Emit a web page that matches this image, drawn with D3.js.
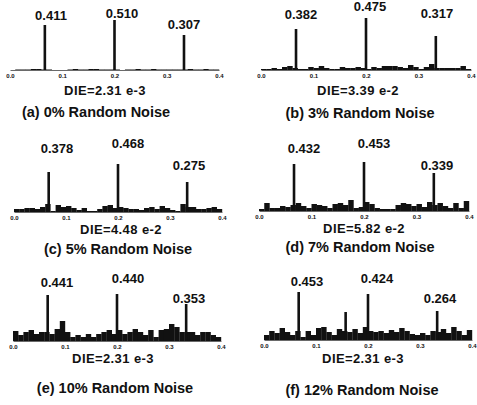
<!DOCTYPE html>
<html>
<head>
<meta charset="utf-8">
<script src="https://cdn.jsdelivr.net/npm/d3@7"></script>
<style>
  body { margin: 0; background: #fff; }
  text { font-family: "Liberation Sans", Arial, sans-serif; font-weight: bold; fill: #111; }
</style>
</head>
<body>
<script>
// --- Data ---
const ticks = [0.0, 0.1, 0.2, 0.3, 0.4];
const binWidth = 0.01;
const peakPos = [0.0667, 0.2, 0.333];

const captions = [
    "(a) 0% Random Noise", "(b) 3% Random Noise", "(c) 5% Random Noise",
    "(d) 7% Random Noise", "(e) 10% Random Noise", "(f) 12% Random Noise"
];
const dieLabels = ["DIE=2.31 e-3", "DIE=3.39 e-2", "DIE=4.48 e-2", "DIE=5.82 e-2", "DIE=2.31 e-3", "DIE=2.31 e-3"];

// values printed above the three peaks
const peakLabels = [
    ["0.411", "0.510", "0.307"],
    ["0.382", "0.475", "0.317"],
    ["0.378", "0.468", "0.275"],
    ["0.432", "0.453", "0.339"],
    ["0.441", "0.440", "0.353"],
    ["0.453", "0.424", "0.264"]
];

// drawn peak heights
const peakHeights = [
    [0.45, 0.50, 0.35],
    [0.41, 0.52, 0.34],
    [0.40, 0.48, 0.30],
    [0.47, 0.49, 0.38],
    [0.46, 0.47, 0.37],
    [0.48, 0.46, 0.29]
];

// extra noise spike in (f)
const extraSpikeF = { pos: 0.157, h: 0.28 };

// noise amplitude per 0.01 bin
const noiseA = [0, 0.005, 0.005, 0.005, 0.01, 0.01, 0.005, 0.005, 0, 0,
    0, 0.005, 0.01, 0.005, 0.005, 0.01, 0.01, 0.005, 0.005, 0.005,
    0.005, 0, 0.005, 0.005, 0.01, 0.005, 0.005, 0.01, 0.005, 0.005,
    0.005, 0.005, 0.005, 0.005, 0.01, 0.005, 0.005, 0.01, 0.005, 0.005];
const noiseB = [0.01, 0.01, 0.02, 0.01, 0.03, 0.04, 0.02, 0.01, 0.01, 0.03,
    0.02, 0.04, 0.02, 0.01, 0.01, 0.03, 0.02, 0.02, 0.03, 0.02,
    0.01, 0.03, 0.02, 0.04, 0.04, 0.04, 0.03, 0.02, 0.05, 0.03,
    0.01, 0.03, 0.06, 0.02, 0.02, 0.02, 0.02, 0.02, 0.04, 0.01];
const noiseC = [0.03, 0.03, 0.04, 0.04, 0.03, 0.05, 0.08, 0.01, 0.07, 0.05,
    0.06, 0.04, 0.02, 0.04, 0.01, 0.01, 0.03, 0.06, 0.07, 0.04,
    0.05, 0.04, 0.03, 0.03, 0.02, 0.04, 0.05, 0.03, 0.06, 0.04,
    0.02, 0.01, 0.08, 0.05, 0.05, 0.03, 0.03, 0.04, 0.05, 0.03];
const noiseD = [0.02, 0.08, 0.03, 0.03, 0.05, 0.04, 0.06, 0.08, 0.05, 0.03,
    0.07, 0.06, 0.05, 0.03, 0.07, 0.08, 0.06, 0.11, 0.03, 0.04,
    0.09, 0.07, 0.03, 0.02, 0.02, 0.02, 0.06, 0.08, 0.07, 0.05,
    0.07, 0.04, 0.09, 0.06, 0.08, 0.05, 0.03, 0.08, 0.03, 0.10];
const noiseE = [0.10, 0.06, 0.09, 0.11, 0.07, 0.09, 0.09, 0.07, 0.12, 0.20,
    0.09, 0.04, 0.06, 0.04, 0.07, 0.04, 0.07, 0.09, 0.11, 0.07,
    0.11, 0.07, 0.09, 0.12, 0.09, 0.06, 0.11, 0.04, 0.11, 0.12,
    0.17, 0.14, 0.09, 0.09, 0.09, 0.06, 0.09, 0.09, 0.06, 0.04];
const noiseF = [0.05, 0.09, 0.07, 0.12, 0.08, 0.05, 0.09, 0.03, 0.09, 0.05,
    0.12, 0.13, 0.08, 0.05, 0.11, 0.09, 0.08, 0.11, 0.07, 0.13,
    0.09, 0.08, 0.09, 0.07, 0.10, 0.08, 0.12, 0.09, 0.06, 0.05,
    0.07, 0.05, 0.09, 0.08, 0.11, 0.07, 0.13, 0.09, 0.05, 0.10];
const noiseSeries = [noiseA, noiseB, noiseC, noiseD, noiseE, noiseF];

// --- Layout (pixels) ---
const panels = [
    { x0: 10, x1: 219, axisY: 70, labels: [[51, 20], [122, 18], [184, 29]], die: [105, 95], cap: [96, 117] },
    { x0: 261, x1: 471, axisY: 70, labels: [[301, 19], [370, 11], [437, 18]], die: [358, 95], cap: [360, 118] },
    { x0: 14, x1: 222, axisY: 212, labels: [[57, 153], [128, 148], [189, 170]], die: [121, 234], cap: [118, 254] },
    { x0: 259, x1: 469, axisY: 211, labels: [[304, 153], [374, 148], [437, 170]], die: [364, 233], cap: [360, 252] },
    { x0: 13, x1: 221, axisY: 341, labels: [[57, 287], [128, 283], [189, 303]], die: [113, 363], cap: [115, 393] },
    { x0: 264, x1: 472, axisY: 340, labels: [[307, 286], [377, 283], [440, 303]], die: [363, 363], cap: [362, 395] }
];

const svg = d3.select("body").append("svg")
    .attr("width", 477)
    .attr("height", 405);

panels.forEach((L, i) => {
    const g = svg.append("g");
    const x = d3.scaleLinear().domain([0, 0.4]).range([L.x0, L.x1]);
    const y = d3.scaleLinear().domain([0, 0.5]).range([L.axisY, L.axisY - 50]);

    // noise bins
    g.append("g")
        .selectAll("rect")
        .data(noiseSeries[i])
        .join("rect")
        .attr("x", (d, k) => x(k * binWidth))
        .attr("width", x(binWidth) - x(0) + 0.2)
        .attr("y", d => y(d))
        .attr("height", d => L.axisY - y(d))
        .attr("fill", "#111");

    // peaks
    const spikes = peakPos.map((p, k) => ({ pos: p, h: peakHeights[i][k] }));
    if (i === 5) spikes.push(extraSpikeF);
    g.append("g")
        .selectAll("rect")
        .data(spikes)
        .join("rect")
        .attr("x", d => x(d.pos) - 1.3)
        .attr("width", 2.6)
        .attr("y", d => y(d.h))
        .attr("height", d => L.axisY - y(d.h))
        .attr("fill", "#111");

    // axis
    const axis = g.append("g")
        .attr("transform", `translate(0,${L.axisY})`)
        .call(d3.axisBottom(x).tickValues(ticks).tickSize(0).tickSizeOuter(0)
            .tickPadding(3.5).tickFormat(d3.format(".1f")));
    axis.select(".domain").attr("stroke", "#444").attr("stroke-width", 0.8);
    axis.selectAll("text")
        .style("font-family", '"Liberation Sans", Arial, sans-serif')
        .style("font-weight", "bold")
        .style("font-size", "6px")
        .attr("fill", "#111");

    // peak labels
    g.append("g")
        .selectAll("text")
        .data(peakLabels[i])
        .join("text")
        .attr("x", (d, k) => L.labels[k][0])
        .attr("y", (d, k) => L.labels[k][1])
        .attr("text-anchor", "middle")
        .style("font-size", "13px")
        .text(d => d);

    g.append("text")
        .attr("x", L.die[0])
        .attr("y", L.die[1])
        .attr("text-anchor", "middle")
        .style("font-size", "13px")
        .style("letter-spacing", "0.4px")
        .text(dieLabels[i]);

    g.append("text")
        .attr("x", L.cap[0])
        .attr("y", L.cap[1])
        .attr("text-anchor", "middle")
        .style("font-size", "14.5px")
        .text(captions[i]);
});
</script>
</body>
</html>
